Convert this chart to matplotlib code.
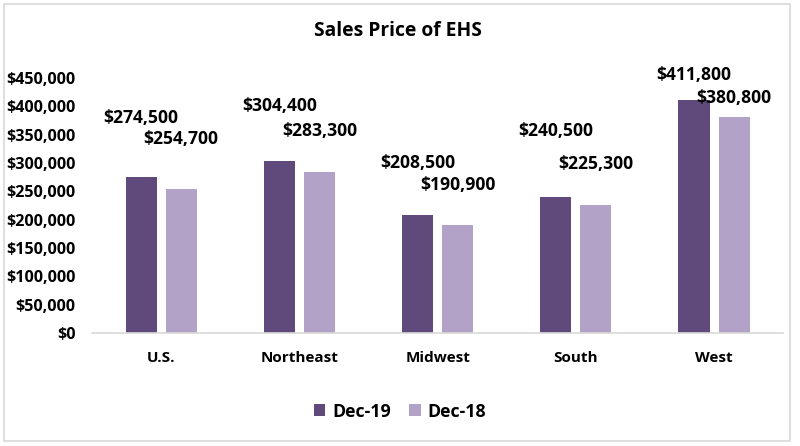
import numpy as np
import matplotlib.pyplot as plt
from matplotlib.patches import Rectangle
from matplotlib.ticker import FuncFormatter

plt.rcParams['font.family'] = ['Open Sans', 'DejaVu Sans']

regions = ['U.S.', 'Northeast', 'Midwest', 'South', 'West']
dec19 = [274500, 304400, 208500, 240500, 411800]
dec18 = [254700, 283300, 190900, 225300, 380800]
# how far each data label sits above its bar (points), as placed in the original
lift19 = [43, 39, 37, 47, 18]
lift18 = [36, 30, 29, 30, 14]

dark = '#604A7B'
light = '#B3A2C7'

fig = plt.figure(figsize=(8, 4.46), dpi=100)
ax = fig.add_axes([0.115, 0.2534, 0.864, 0.5716])

x = np.arange(len(regions))
w = 0.225
b1 = ax.bar(x - 0.145, dec19, w, color=dark, label='Dec-19')
b2 = ax.bar(x + 0.145, dec18, w, color=light, label='Dec-18')

for bars, vals, lifts in [(b1, dec19, lift19), (b2, dec18, lift18)]:
    for bar, v, d in zip(bars, vals, lifts):
        ax.annotate('${:,.0f}'.format(v), (bar.get_x() + bar.get_width() / 2, v),
                    xytext=(0, d), textcoords='offset points', ha='center', va='center',
                    fontsize=12.6, fontweight='bold', annotation_clip=False)

ax.set_xlim(-0.5, 4.5)
ax.set_ylim(0, 450000)
ax.set_yticks(np.arange(0, 450001, 50000))
ax.yaxis.set_major_formatter(FuncFormatter(lambda v, p: '${:,.0f}'.format(v)))
ax.set_xticks(x)
ax.set_xticklabels(regions)
ax.tick_params(length=0)
ax.tick_params(axis='x', pad=13, labelsize=11)
ax.tick_params(axis='y', pad=12, labelsize=11.6)
for lab in ax.get_xticklabels() + ax.get_yticklabels():
    lab.set_fontweight('bold')
for s in ['top', 'right', 'left']:
    ax.spines[s].set_visible(False)
ax.spines['bottom'].set_color('#D9D9D9')
ax.spines['bottom'].set_linewidth(1.2)

fig.text(0.497, 0.931, 'Sales Price of EHS', ha='center', va='center',
         fontsize=13.9, fontweight='bold')

leg = fig.legend(loc='center', bbox_to_anchor=(0.5, 0.077), ncol=2, frameon=False,
                 prop={'size': 12.8, 'weight': 'bold'}, handlelength=0.65, handleheight=0.65,
                 columnspacing=1.0, handletextpad=0.4)

fig.patches.append(Rectangle((0.005, 0.012), 0.983, 0.98, transform=fig.transFigure,
                             fill=False, edgecolor='#D9D9D9', linewidth=1.2))

fig.savefig('out.png', dpi=100)
